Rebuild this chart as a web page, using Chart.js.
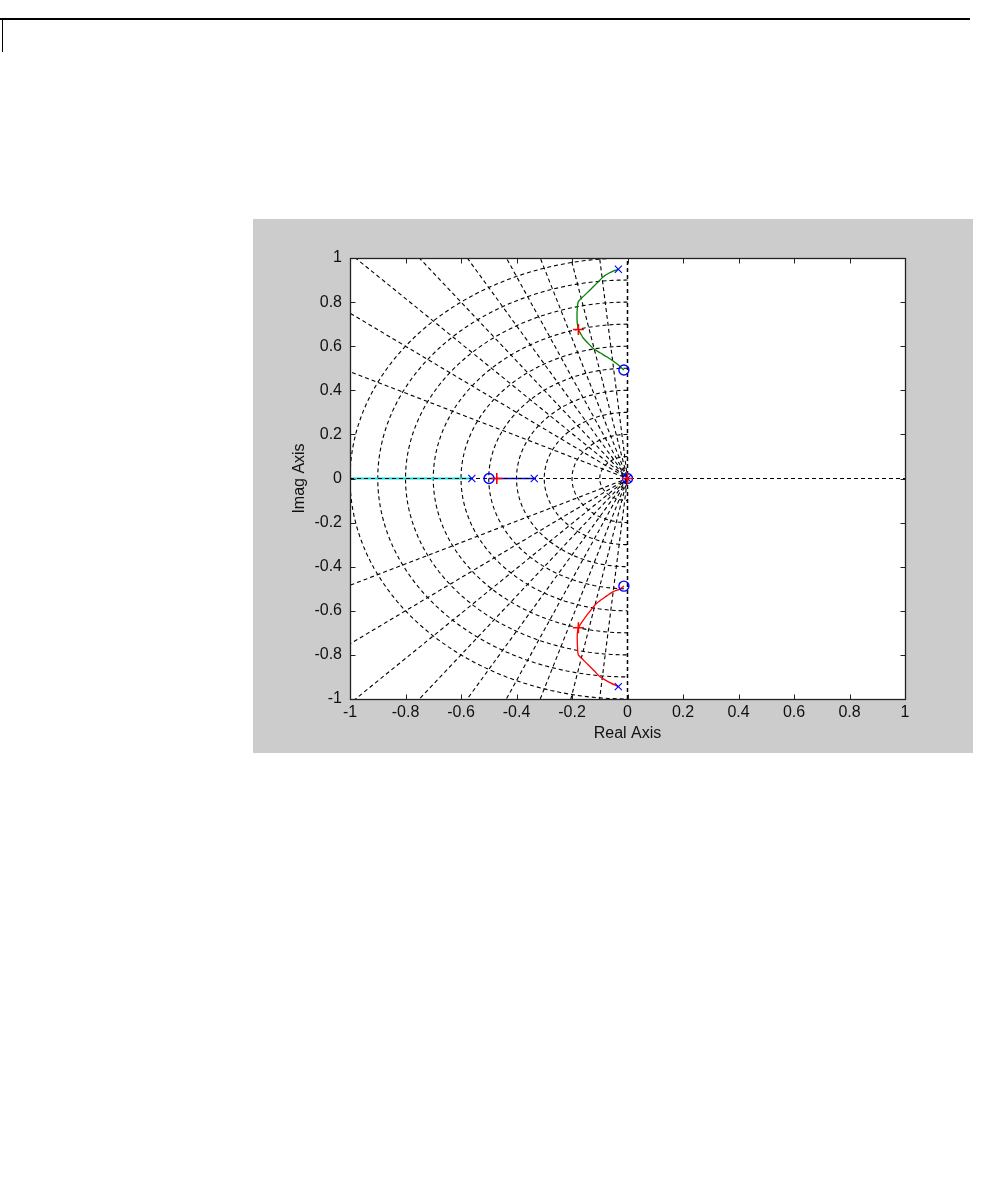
<!DOCTYPE html>
<html>
<head>
<meta charset="utf-8">
<script src="https://cdn.jsdelivr.net/npm/chart.js@4/dist/chart.umd.min.js"></script>
<style>
  body { margin: 0; background: #fff; width: 981px; height: 1182px; position: relative; overflow: hidden; }
  #rule { position: absolute; left: 0; top: 18px; width: 970px; border-top: 2px solid #000; }
  #edge { position: absolute; left: 2px; top: 18px; height: 34px; border-left: 1px solid #000; }
  #panel { position: absolute; left: 253px; top: 219px; width: 720px; height: 534px; background: #ccc; }
</style>
</head>
<body>
<div id="rule"></div>
<div id="edge"></div>
<div id="panel"><canvas id="rlocus"></canvas></div>
<script>
// axis ticks
const tickValues = [-1, -0.8, -0.6, -0.4, -0.2, 0, 0.2, 0.4, 0.6, 0.8, 1];
const xTickLabels = ['-1', '-0.8', '-0.6', '-0.4', '-0.2', '0', '0.2', '0.4', '0.6', '0.8', '1'];
const yTickLabels = ['-1', '-0.8', '-0.6', '-0.4', '-0.2', '0', '0.2', '0.4', '0.6', '0.8', '1'];

// sgrid: damping ratio rays and natural frequency circles
const zetaValues = [0.1, 0.2, 0.3, 0.4, 0.5, 0.6, 0.7, 0.8, 0.9];
const wnValues = [0.1, 0.2, 0.3, 0.4, 0.5, 0.6, 0.7, 0.8, 0.9, 1.0];

// open loop poles (x)
const poles = [[-0.033, 0.949], [-0.033, -0.944], [-0.561, 0], [-0.336, 0], [0, 0]];
// open loop zeros (o)
const zeros = [[-0.013, 0.492], [-0.013, -0.488], [-0.499, 0], [0, 0]];
// closed loop poles at selected gain (+)
const selected = [[-0.177, 0.676], [-0.177, -0.677], [-0.471, 0], [0, 0]];

// locus branches
const branchUpper = [[-0.033, 0.949], [-0.045, 0.944], [-0.066, 0.932], [-0.087, 0.915], [-0.110, 0.886],
  [-0.135, 0.855], [-0.158, 0.827], [-0.177, 0.802], [-0.181, 0.770], [-0.182, 0.741], [-0.181, 0.705],
  [-0.177, 0.676], [-0.168, 0.655], [-0.159, 0.636], [-0.142, 0.613], [-0.123, 0.590], [-0.099, 0.570],
  [-0.075, 0.552], [-0.052, 0.533], [-0.033, 0.515], [-0.013, 0.492]];
const branchLower = [[-0.013, -0.488], [-0.030, -0.503], [-0.051, -0.513], [-0.080, -0.537], [-0.111, -0.566],
  [-0.141, -0.611], [-0.171, -0.664], [-0.177, -0.677], [-0.181, -0.705], [-0.181, -0.732], [-0.180, -0.770],
  [-0.177, -0.800], [-0.160, -0.822], [-0.141, -0.846], [-0.120, -0.872], [-0.099, -0.899], [-0.063, -0.926],
  [-0.033, -0.944]];
const branchRealLeft = [[-1, 0], [-0.561, 0]];
const branchRealMid = [[-0.499, 0], [-0.336, 0]];

const toPts = arr => arr.map(p => ({ x: p[0], y: p[1] }));

function gridLine(points) {
  return {
    data: points, showLine: true, pointRadius: 0, borderColor: '#000', borderWidth: 1.1,
    borderDash: [4, 3], tension: 0, order: 6
  };
}

const datasets = [];

// natural frequency semicircles in left half plane
wnValues.forEach(wn => {
  const pts = [];
  for (let k = 0; k <= 90; k++) {
    const a = Math.PI / 2 + Math.PI * k / 90;
    pts.push({ x: wn * Math.cos(a), y: wn * Math.sin(a) });
  }
  datasets.push(gridLine(pts));
});

// constant damping rays
zetaValues.forEach(z => {
  const t = Math.acos(z);
  datasets.push(gridLine([{ x: -1.6 * Math.cos(t), y: 1.6 * Math.sin(t) }, { x: 0, y: 0 },
    { x: -1.6 * Math.cos(t), y: -1.6 * Math.sin(t) }]));
});

// real and imaginary axes
const realAxis = gridLine([{ x: -1, y: 0 }, { x: 1, y: 0 }]);
realAxis.order = 4;
const imagAxis = gridLine([{ x: 0, y: -1 }, { x: 0, y: 1 }]);
imagAxis.order = 4;
imagAxis.borderWidth = 1.5;
datasets.push(realAxis, imagAxis);

// branches
datasets.push({ data: toPts(branchRealLeft), showLine: true, pointRadius: 0, borderColor: '#00e0e0', borderWidth: 2, order: 5 });
datasets.push({ data: toPts(branchRealMid), showLine: true, pointRadius: 0, borderColor: '#0000ff', borderWidth: 1.5, order: 5 });
datasets.push({ data: toPts(branchUpper), showLine: true, pointRadius: 0, borderColor: '#008000', borderWidth: 1.3, tension: 0.3, order: 2 });
datasets.push({ data: toPts(branchLower), showLine: true, pointRadius: 0, borderColor: '#ff0000', borderWidth: 1.3, tension: 0.3, order: 2 });

// markers
datasets.push({ data: toPts(zeros), pointStyle: 'circle', pointRadius: 5, borderColor: '#0000ff', backgroundColor: 'rgba(0,0,0,0)', pointBorderWidth: 1.4, order: 1 });
datasets.push({ data: toPts(poles), pointStyle: 'crossRot', pointRadius: 5, borderColor: '#0000ff', pointBorderWidth: 1.1, order: 1 });
datasets.push({ data: toPts(selected), pointStyle: 'cross', pointRadius: 5.5, borderColor: '#ff0000', pointBorderWidth: 1.6, order: 0 });

// white plot area, box and inward ticks like MATLAB axes
const axesBox = {
  id: 'axesBox',
  beforeDraw(chart) {
    const { ctx, chartArea: a } = chart;
    ctx.save();
    ctx.fillStyle = '#fff';
    ctx.fillRect(a.left, a.top, a.right - a.left, a.bottom - a.top);
    ctx.restore();
  },
  afterDraw(chart) {
    const { ctx, chartArea: a } = chart;
    const xs = chart.scales.x, ys = chart.scales.y;
    const L = Math.round(a.left) + 0.5, R = Math.round(a.right) + 0.5;
    const T = Math.round(a.top) + 0.5, B = Math.round(a.bottom) + 0.5;
    const len = 5;
    ctx.save();
    ctx.strokeStyle = '#222';
    ctx.lineWidth = 1;
    ctx.beginPath();
    tickValues.forEach(v => {
      const px = Math.round(xs.getPixelForValue(v)) + 0.5;
      ctx.moveTo(px, B); ctx.lineTo(px, B - len);
      ctx.moveTo(px, T); ctx.lineTo(px, T + len);
      const py = Math.round(ys.getPixelForValue(v)) + 0.5;
      ctx.moveTo(L, py); ctx.lineTo(L + len, py);
      ctx.moveTo(R, py); ctx.lineTo(R - len, py);
    });
    ctx.stroke();
    ctx.lineWidth = 1.3;
    ctx.strokeRect(L, T, R - L, B - T);
    ctx.restore();
  }
};

const font = { family: '"Liberation Sans", Arial, Helvetica, sans-serif', size: 16 };

new Chart(document.getElementById('rlocus'), {
  type: 'scatter',
  data: { datasets: datasets },
  options: {
    responsive: true,
    maintainAspectRatio: false,
    animation: false,
    layout: { padding: { top: 39, right: 68, bottom: 0, left: 0 } },
    plugins: { legend: { display: false }, tooltip: { enabled: false } },
    scales: {
      x: {
        type: 'linear', min: -1, max: 1,
        grid: { display: false, drawTicks: false },
        border: { display: false },
        afterBuildTicks: s => { s.ticks = tickValues.map(v => ({ value: v })); },
        afterFit: s => { s.height = 54; },
        ticks: { font: font, color: '#111', padding: 4, maxRotation: 0, autoSkip: false,
          callback: (v, i) => xTickLabels[i] },
        title: { display: true, text: 'Real Axis', font: font, color: '#111', padding: { top: 0, bottom: 10 } }
      },
      y: {
        type: 'linear', min: -1, max: 1,
        grid: { display: false, drawTicks: false },
        border: { display: false },
        afterBuildTicks: s => { s.ticks = tickValues.map(v => ({ value: v })); },
        afterFit: s => { s.width = 97; },
        ticks: { font: font, color: '#111', padding: 8, autoSkip: false,
          callback: (v, i) => yTickLabels[i] },
        title: { display: true, text: 'Imag Axis', font: font, color: '#111', padding: { top: 37, bottom: 0 } }
      }
    }
  },
  plugins: [axesBox]
});
</script>
</body>
</html>
